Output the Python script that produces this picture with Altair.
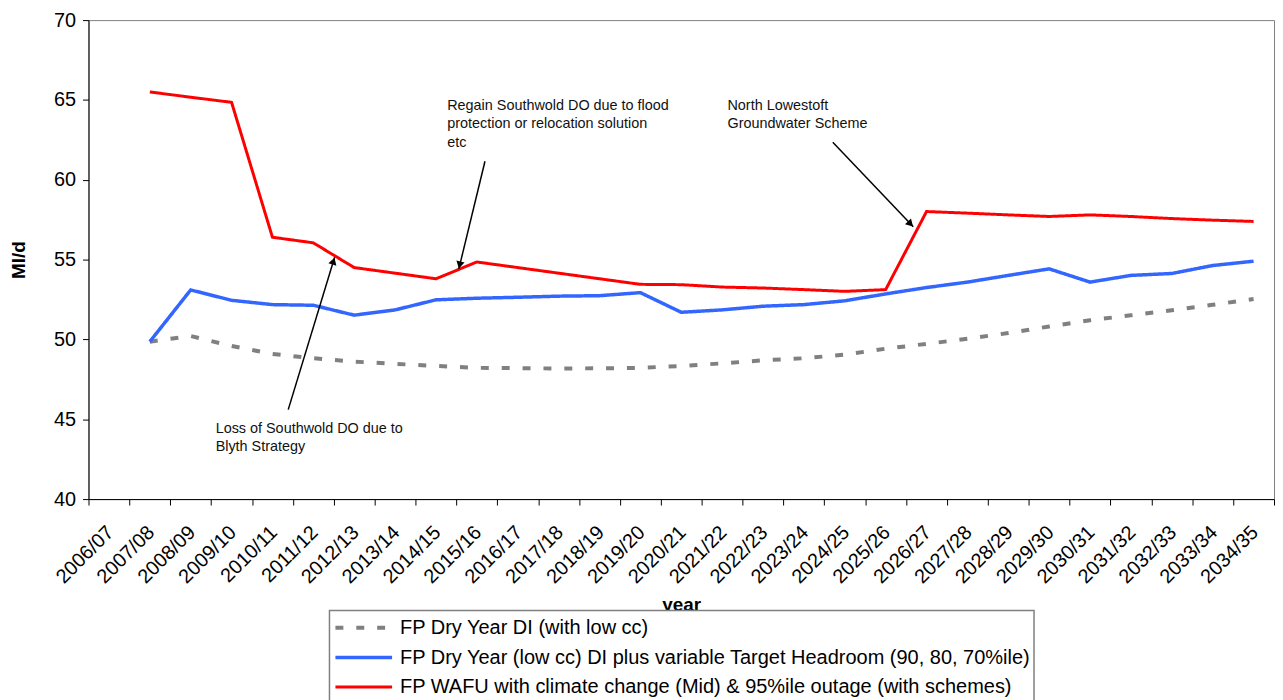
import altair as alt
import pandas as pd

FONT = "Liberation Sans, Arial, Helvetica, sans-serif"

years = ["2006/07", "2007/08", "2008/09", "2009/10", "2010/11", "2011/12", "2012/13",
         "2013/14", "2014/15", "2015/16", "2016/17", "2017/18", "2018/19", "2019/20",
         "2020/21", "2021/22", "2022/23", "2023/24", "2024/25", "2025/26", "2026/27",
         "2027/28", "2028/29", "2029/30", "2030/31", "2031/32", "2032/33", "2033/34",
         "2034/35"]
data_years = years[1:]

series_names = [
    "FP Dry Year DI (with low cc)",
    "FP Dry Year (low cc) DI plus variable Target Headroom (90, 80, 70%ile)",
    "FP WAFU with climate change (Mid) & 95%ile outage (with schemes)",
]

dry_year_di = [49.86, 50.21, 49.59, 49.09, 48.82, 48.61, 48.47, 48.34, 48.22, 48.20,
               48.18, 48.19, 48.22, 48.34, 48.50, 48.69, 48.82, 49.05, 49.42, 49.72,
               50.04, 50.40, 50.81, 51.20, 51.51, 51.83, 52.17, 52.53]
di_plus_headroom = [49.86, 53.10, 52.45, 52.18, 52.14, 51.52, 51.85, 52.48, 52.58, 52.64,
                    52.71, 52.74, 52.93, 51.70, 51.85, 52.08, 52.18, 52.42, 52.85, 53.25,
                    53.59, 54.01, 54.42, 53.59, 54.01, 54.13, 54.63, 54.90]
wafu = [65.50, 65.17, 64.85, 56.40, 56.05, 54.50, 54.15, 53.80, 54.85, 54.50,
        54.15, 53.80, 53.45, 53.43, 53.28, 53.22, 53.12, 53.01, 53.12, 58.01,
        57.91, 57.80, 57.70, 57.80, 57.70, 57.57, 57.47, 57.39]

y_ticks = [40, 45, 50, 55, 60, 65, 70]

# annotations (x in category units: category i spans [i, i+1])
note_x = [8.775, 8.775, 8.775, 15.63, 15.63, 3.11, 3.11]
note_y = [64.37, 63.22, 62.06, 64.37, 63.22, 44.14, 43.02]
note_text = ["Regain Southwold DO due to flood", "protection or relocation solution", "etc",
             "North Lowestoft", "Groundwater Scheme",
             "Loss of Southwold DO due to", "Blyth Strategy"]

arrow_x0 = [9.699, 18.207, 4.886]
arrow_y0 = [61.162, 62.344, 45.602]
arrow_x1 = [9.060, 20.176, 6.021]
arrow_y1 = [54.421, 57.054, 55.143]
head_x = [9.079, 20.108, 5.992]
head_y = [54.664, 57.234, 54.907]
head_angle = [193.6, 136.4, 16.9]

rows = []
for name, vals in zip(series_names, [dry_year_di, di_plus_headroom, wafu]):
    for yr, v in zip(data_years, vals):
        rows.append({"year": yr, "value": v, "series": name})
df = pd.DataFrame(rows)

notes_df = pd.DataFrame({"x": note_x, "y": note_y, "text": note_text})
arrows_df = pd.DataFrame({"x0": arrow_x0, "y0": arrow_y0, "x1": arrow_x1, "y1": arrow_y1})
heads_df = pd.DataFrame({"x": head_x, "y": head_y, "angle": head_angle})

legend = alt.Legend(title=None, symbolType="M-2.28,0H2.28", symbolSize=625,
                    symbolOffset=17, labelOffset=22, labelLimit=2000)

lines = alt.Chart(df).mark_line().encode(
    x=alt.X("year:O",
            scale=alt.Scale(type="band", domain=years, paddingInner=0, paddingOuter=0),
            axis=alt.Axis(title="year", tickBand="extent", labelAngle=-45,
                          labelAlign="right", labelBaseline="top", labelOffset=-6,
                          labelPadding=17, labelFontSize=20, tickSize=6,
                          titleFontSize=19, titleFontWeight="bold", titleY=97,
                          titleBaseline="top")),
    y=alt.Y("value:Q",
            scale=alt.Scale(domain=[40, 70], nice=False, zero=False),
            axis=alt.Axis(values=y_ticks, title="Ml/d", labelFontSize=20, labelPadding=7,
                          tickSize=6, titleFontSize=19, titleFontWeight="bold",
                          titleAngle=270, titleX=-70, titleY=241,
                          titleBaseline="middle", titleAlign="center")),
    color=alt.Color("series:N",
                    scale=alt.Scale(domain=series_names,
                                    range=["#808080", "#3366FF", "#FF0000"]),
                    legend=legend),
    strokeDash=alt.StrokeDash("series:N",
                              scale=alt.Scale(domain=series_names,
                                              range=[[8, 13], [1, 0], [1, 0]]),
                              legend=legend),
    strokeWidth=alt.StrokeWidth("series:N",
                                scale=alt.Scale(domain=series_names, range=[4, 3, 3]),
                                legend=legend),
)

ann_x = alt.Scale(domain=[0, 29], nice=False, zero=False)
ann_y = alt.Scale(domain=[40, 70], nice=False, zero=False)

rules = alt.Chart(arrows_df).mark_rule(color="black", strokeWidth=1.5).encode(
    x=alt.X("x0:Q", scale=ann_x, axis=None),
    y=alt.Y("y0:Q", scale=ann_y, axis=None),
    x2="x1:Q",
    y2="y1:Q",
)

heads = alt.Chart(heads_df).mark_point(shape="triangle-up", filled=True, color="black",
                                        size=70, opacity=1).encode(
    x=alt.X("x:Q", scale=ann_x, axis=None),
    y=alt.Y("y:Q", scale=ann_y, axis=None),
    angle=alt.Angle("angle:Q", scale=None),
)

texts = alt.Chart(notes_df).mark_text(align="left", baseline="alphabetic", fontSize=14.5,
                                      font=FONT, color="#111111").encode(
    x=alt.X("x:Q", scale=ann_x, axis=None),
    y=alt.Y("y:Q", scale=ann_y, axis=None),
    text="text:N",
)

chart = alt.layer(lines, rules, heads, texts).resolve_scale(
    x="independent", y="independent"
).properties(
    width=1193, height=482,
    autosize=alt.AutoSizeParams(type="none"),
    padding={"left": 81, "top": 10, "right": 1, "bottom": 200},
).configure_view(
    stroke="#808080", strokeWidth=1
).configure_axis(
    domainColor="black", tickColor="black", labelColor="black", titleColor="black",
    labelFont=FONT, titleFont=FONT, grid=False, domainWidth=1, tickWidth=1
).configure_legend(
    orient="none", legendX=242.5, legendY=594, padding=3, rowPadding=5,
    fillColor="white", strokeColor="#808080", strokeWidth=1.5,
    labelFont=FONT, labelFontSize=20.1, labelColor="black",
)

chart.save("out.html", embed_options={"renderer": "svg", "actions": False})
